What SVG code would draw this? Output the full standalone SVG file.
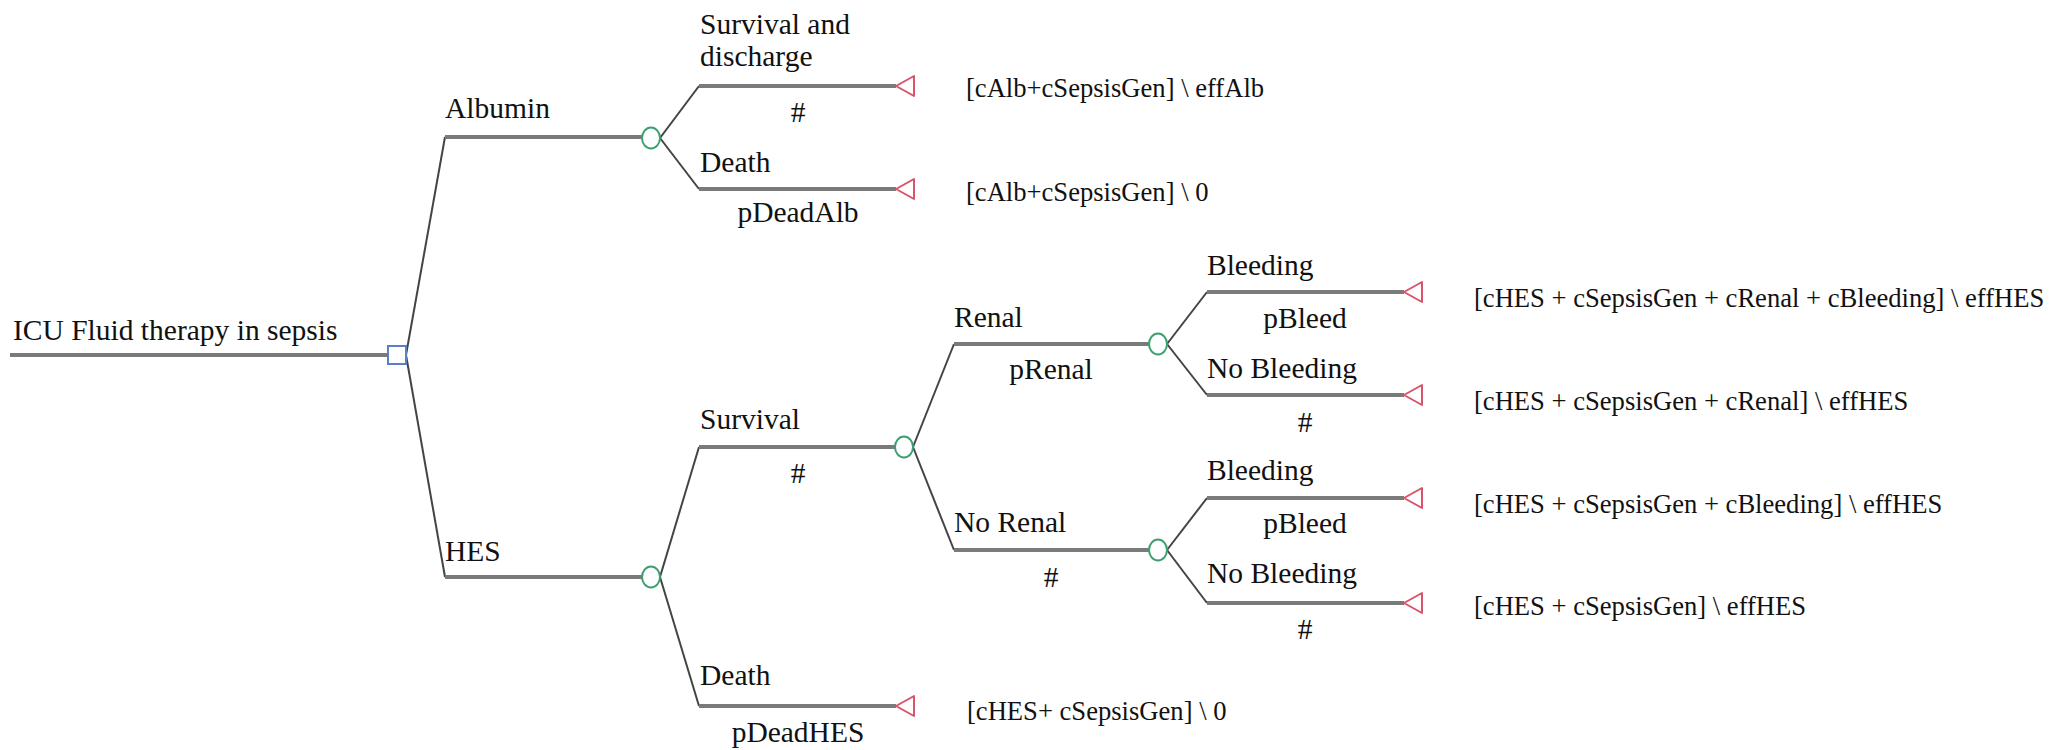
<svg xmlns="http://www.w3.org/2000/svg" width="2053" height="750" viewBox="0 0 2053 750">
<style>
  .lbl { font-family: "Liberation Serif", "Times New Roman", serif; font-size: 29.5px; fill: #111; }
  .prob { font-family: "Liberation Serif", "Times New Roman", serif; font-size: 29.5px; fill: #111; text-anchor: middle; }
  .pay { font-family: "Liberation Serif", "Times New Roman", serif; font-size: 26.6px; fill: #111; }
  .h { stroke: #7a7a7a; stroke-width: 4; fill: none; }
  .d { stroke: #444; stroke-width: 2; fill: none; }
  .dec { fill: #fff; stroke: #5b7fc7; stroke-width: 2; }
  .chance { fill: #fff; stroke: #3aa070; stroke-width: 2; }
  .term { fill: #fff; stroke: #d9536a; stroke-width: 2; stroke-linejoin: round; }
</style>
<rect width="2053" height="750" fill="#fff"/>

<g id="connectors">
  <line class="h" x1="10" y1="355" x2="388" y2="355"/>
  <line class="d" x1="406" y1="355" x2="445" y2="137"/>
  <line class="h" x1="445" y1="137" x2="642" y2="137"/>
  <line class="d" x1="406" y1="355" x2="445" y2="577"/>
  <line class="h" x1="445" y1="577" x2="642" y2="577"/>

  <line class="d" x1="660" y1="138" x2="699" y2="86"/>
  <line class="h" x1="699" y1="86" x2="896" y2="86"/>
  <line class="d" x1="660" y1="138" x2="699" y2="189"/>
  <line class="h" x1="699" y1="189" x2="896" y2="189"/>

  <line class="d" x1="660" y1="577" x2="699" y2="447"/>
  <line class="h" x1="699" y1="447" x2="895" y2="447"/>
  <line class="d" x1="660" y1="577" x2="699" y2="706"/>
  <line class="h" x1="699" y1="706" x2="896" y2="706"/>

  <line class="d" x1="913" y1="447" x2="954" y2="344"/>
  <line class="h" x1="954" y1="344" x2="1149" y2="344"/>
  <line class="d" x1="913" y1="447" x2="954" y2="550"/>
  <line class="h" x1="954" y1="550" x2="1149" y2="550"/>

  <line class="d" x1="1167" y1="344" x2="1207" y2="292"/>
  <line class="h" x1="1207" y1="292" x2="1404" y2="292"/>
  <line class="d" x1="1167" y1="344" x2="1207" y2="395"/>
  <line class="h" x1="1207" y1="395" x2="1404" y2="395"/>

  <line class="d" x1="1167" y1="550" x2="1207" y2="498"/>
  <line class="h" x1="1207" y1="498" x2="1404" y2="498"/>
  <line class="d" x1="1167" y1="550" x2="1207" y2="603"/>
  <line class="h" x1="1207" y1="603" x2="1404" y2="603"/>
</g>

<g id="root">
  <text class="lbl" x="13" y="340">ICU Fluid therapy in sepsis</text>
  <rect class="dec" x="388" y="346" width="18" height="18"/>
</g>

<g id="albumin">
  <text class="lbl" x="445" y="118">Albumin</text>
  <ellipse class="chance" cx="651" cy="138" rx="9" ry="10.5"/>
</g>

<g id="alb-survival">
  <text class="lbl" x="700" y="34">Survival and</text>
  <text class="lbl" x="700" y="66">discharge</text>
  <text class="prob" x="798" y="122">#</text>
  <polygon class="term" points="896,86 914,76 914,96"/>
  <text class="pay" x="966" y="97">[cAlb+cSepsisGen] \ effAlb</text>
</g>

<g id="alb-death">
  <text class="lbl" x="700" y="172">Death</text>
  <text class="prob" x="798" y="222">pDeadAlb</text>
  <polygon class="term" points="896,189 914,179 914,199"/>
  <text class="pay" x="966" y="201">[cAlb+cSepsisGen] \ 0</text>
</g>

<g id="hes">
  <text class="lbl" x="445" y="561">HES</text>
  <ellipse class="chance" cx="651" cy="577" rx="9" ry="10.5"/>
</g>

<g id="hes-survival">
  <text class="lbl" x="700" y="429">Survival</text>
  <text class="prob" x="798" y="483">#</text>
  <ellipse class="chance" cx="904" cy="447" rx="9" ry="10.5"/>
</g>

<g id="hes-death">
  <text class="lbl" x="700" y="685">Death</text>
  <text class="prob" x="798" y="742">pDeadHES</text>
  <polygon class="term" points="896,706 914,696 914,716"/>
  <text class="pay" x="967" y="720">[cHES+ cSepsisGen] \ 0</text>
</g>

<g id="renal">
  <text class="lbl" x="954" y="327">Renal</text>
  <text class="prob" x="1051" y="379">pRenal</text>
  <ellipse class="chance" cx="1158" cy="344" rx="9" ry="10.5"/>
</g>

<g id="no-renal">
  <text class="lbl" x="954" y="532">No Renal</text>
  <text class="prob" x="1051" y="587">#</text>
  <ellipse class="chance" cx="1158" cy="550" rx="9" ry="10.5"/>
</g>

<g id="renal-bleeding">
  <text class="lbl" x="1207" y="275">Bleeding</text>
  <text class="prob" x="1305" y="328">pBleed</text>
  <polygon class="term" points="1404,292 1422,282 1422,302"/>
  <text class="pay" x="1474" y="307">[cHES + cSepsisGen + cRenal + cBleeding] \ effHES</text>
</g>

<g id="renal-no-bleeding">
  <text class="lbl" x="1207" y="378">No Bleeding</text>
  <text class="prob" x="1305" y="432">#</text>
  <polygon class="term" points="1404,395 1422,385 1422,405"/>
  <text class="pay" x="1474" y="410">[cHES + cSepsisGen + cRenal] \ effHES</text>
</g>

<g id="norenal-bleeding">
  <text class="lbl" x="1207" y="480">Bleeding</text>
  <text class="prob" x="1305" y="533">pBleed</text>
  <polygon class="term" points="1404,498 1422,488 1422,508"/>
  <text class="pay" x="1474" y="513">[cHES + cSepsisGen + cBleeding] \ effHES</text>
</g>

<g id="norenal-no-bleeding">
  <text class="lbl" x="1207" y="583">No Bleeding</text>
  <text class="prob" x="1305" y="639">#</text>
  <polygon class="term" points="1404,603 1422,593 1422,613"/>
  <text class="pay" x="1474" y="615">[cHES + cSepsisGen] \ effHES</text>
</g>
</svg>
